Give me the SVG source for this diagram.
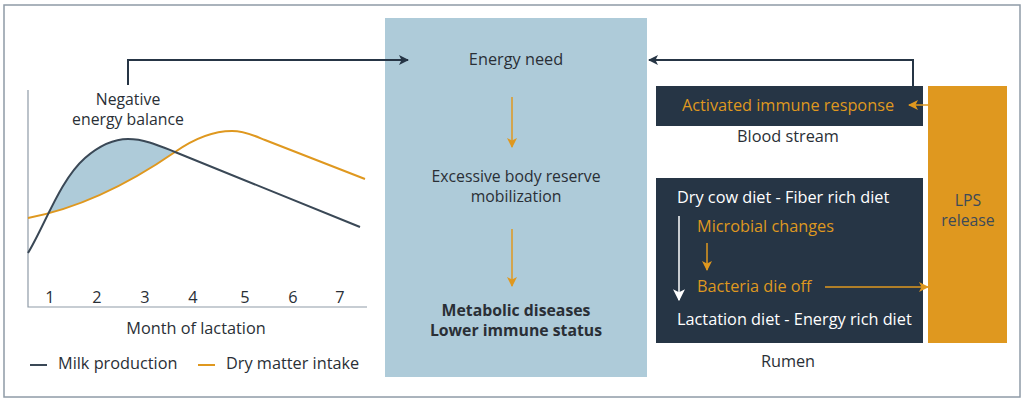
<svg xmlns="http://www.w3.org/2000/svg" width="1024" height="401" viewBox="0 0 1024 401">
<defs>
<style>
text{font-family:"Open Sans","Noto Sans","DejaVu Sans",sans-serif;font-size:16.3px;fill:#2a2f36}
.c{text-anchor:middle}
.o{fill:#df981f}
.w{fill:#ffffff}
.t{font-size:15.8px}
.b{font-weight:bold;font-size:15.8px}
.dk{fill:none;stroke:#263545;stroke-width:2}
.or{fill:none;stroke:#df981f;stroke-width:1.5}
</style>
<marker id="ad" viewBox="0 0 10 10" refX="9" refY="5" markerWidth="10" markerHeight="10" markerUnits="userSpaceOnUse" orient="auto"><path d="M0,0 L10,5 L0,10 L2.5,5 Z" fill="#263545"/></marker>
<marker id="ao" viewBox="0 0 10 10" refX="9" refY="5" markerWidth="10" markerHeight="10" markerUnits="userSpaceOnUse" orient="auto"><path d="M0,0 L10,5 L0,10 L2.5,5 Z" fill="#df981f"/></marker>
<marker id="aw" viewBox="0 0 10 10" refX="9" refY="5" markerWidth="12" markerHeight="12" markerUnits="userSpaceOnUse" orient="auto"><path d="M0,0 L10,5 L0,10 L2.5,5 Z" fill="#ffffff"/></marker>
<clipPath id="aboveDMI"><path d="M28,218 C70,210 120,190 175,152 C195,138 215,131 232,131 C245,131 255,136 265,140 L365,179 L365,0 L28,0 Z"/></clipPath>
</defs>
<rect x="0" y="0" width="1024" height="401" fill="#ffffff"/>
<rect x="4" y="5" width="1016" height="392" fill="none" stroke="#8f9ba7" stroke-width="1.5"/>

<g id="chart">
<path d="M28,253 C45,225 60,180 85,158 C100,145 115,139 128,139 C145,139 160,146 175,152 L360,227 L360,400 L28,400 Z" fill="#aecbd9" clip-path="url(#aboveDMI)"/>
<path d="M28,90 L28,307 L367,307" fill="none" stroke="#8f9ba7" stroke-width="1.2"/>
<path d="M28,218 C70,210 120,190 175,152 C195,138 215,131 232,131 C245,131 255,136 265,140 L365,179" fill="none" stroke="#df981f" stroke-width="2"/>
<path d="M28,253 C45,225 60,180 85,158 C100,145 115,139 128,139 C145,139 160,146 175,152 L360,227" fill="none" stroke="#3a4856" stroke-width="2"/>
<text class="c" x="50" y="303">1</text>
<text class="c" x="97" y="303">2</text>
<text class="c" x="145" y="303">3</text>
<text class="c" x="193" y="303">4</text>
<text class="c" x="245" y="303">5</text>
<text class="c" x="293" y="303">6</text>
<text class="c" x="340" y="303">7</text>
<text class="c" x="196" y="334">Month of lactation</text>
<text class="c t" x="128" y="105">Negative</text>
<text class="c t" x="128" y="125">energy balance</text>
<line x1="30" y1="365" x2="47" y2="365" stroke="#3a4856" stroke-width="2"/>
<text x="58" y="369">Milk production</text>
<line x1="198" y1="365" x2="215" y2="365" stroke="#df981f" stroke-width="2"/>
<text x="226" y="369">Dry matter intake</text>
</g>

<g id="energy-box">
<rect x="385" y="18" width="262" height="359" fill="#aecbd9"/>
<text class="c" x="516" y="65">Energy need</text>
<text class="c t" x="516" y="182">Excessive body reserve</text>
<text class="c t" x="516" y="202">mobilization</text>
<text class="c b" x="516" y="316">Metabolic diseases</text>
<text class="c b" x="516" y="336">Lower immune status</text>
</g>

<g id="blood-stream">
<rect x="656" y="86" width="267" height="40" fill="#263545"/>
<text class="c o" x="788" y="111">Activated immune response</text>
<text class="c" x="788" y="142">Blood stream</text>
</g>

<g id="rumen">
<rect x="656" y="178" width="267" height="165" fill="#263545"/>
<text class="w" x="677" y="203">Dry cow diet - Fiber rich diet</text>
<text class="o" x="697" y="232">Microbial changes</text>
<text class="o" x="697" y="292">Bacteria die off</text>
<text class="w" x="677" y="325">Lactation diet - Energy rich diet</text>
<text class="c" x="788" y="367">Rumen</text>
</g>

<g id="lps">
<rect x="928" y="86" width="79" height="257" fill="#df981f"/>
<text class="c t" x="968" y="206" style="fill:#3d4a58">LPS</text>
<text class="c t" x="968" y="226" style="fill:#3d4a58">release</text>
</g>

<g id="connectors">
<path class="dk" d="M128,85 L128,60 L408,60" marker-end="url(#ad)"/>
<path class="dk" d="M913,86 L913,60 L649,60" marker-end="url(#ad)"/>
<path class="or" d="M512,97 L512,147" marker-end="url(#ao)"/>
<path class="or" d="M512,229 L512,286" marker-end="url(#ao)"/>
<path class="or" d="M928,105 L909,105" marker-end="url(#ao)"/>
<path class="or" d="M707,243 L707,270" marker-end="url(#ao)"/>
<path class="or" d="M825,287 L928,287" marker-end="url(#ao)"/>
<path d="M679,216 L679,300" fill="none" stroke="#ffffff" stroke-width="1.5" marker-end="url(#aw)"/>
</g>
</svg>
